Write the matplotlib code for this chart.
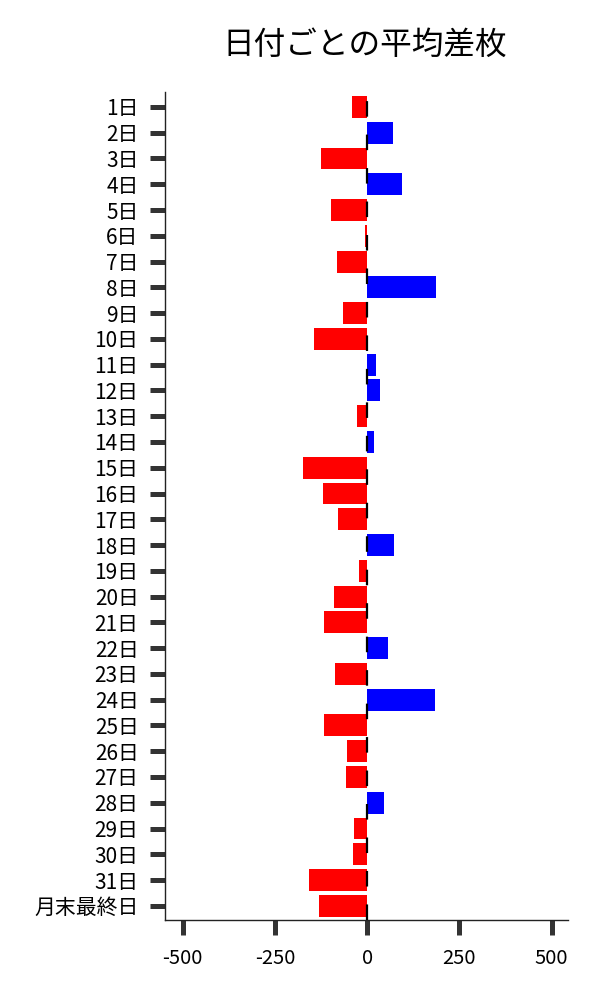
import matplotlib
matplotlib.use("Agg")
import matplotlib.pyplot as plt

plt.rcParams['font.family'] = ['Noto Sans CJK JP', 'DejaVu Sans']
plt.rcParams['lines.scale_dashes'] = False

days = [f"{i}日" for i in range(1, 32)] + ["月末最終日"]
values = [-41, 70, -125, 95, -98, -5, -81, 186, -65, -144,
          24, 34, -27, 18, -173, -119, -79, 73, -22, -89,
          -117, 57, -87, 184, -117, -54, -57, 46, -35, -38,
          -157, -130]
title = "日付ごとの平均差枚"
xticks = [-500, -250, 0, 250, 500]

colors = ['#0000ff' if v > 0 else '#ff0000' for v in values]

fig = plt.figure(figsize=(6, 10), dpi=100)
ax = fig.add_axes([0.275, 0.08, 0.672, 0.828])

ypos = list(range(len(days)))
ax.barh(ypos, values, height=0.85, color=colors, zorder=2)
ax.axvline(0, color='black', linewidth=1.6, dashes=(11.2, 12.9), zorder=3)

ax.set_yticks(ypos)
ax.set_yticklabels(days)
ax.set_ylim(len(days) - 1 + 0.55, -0.58)
ax.set_xlim(-548, 545)
ax.set_xticks(xticks)
ax.set_xticklabels([str(t) for t in xticks])

ax.tick_params(axis='both', which='major', length=11, width=3.6,
               color='#333333', direction='out')
ax.tick_params(axis='y', pad=8, labelsize=15)
ax.tick_params(axis='x', pad=9, labelsize=14.5)

for s in ['top', 'right']:
    ax.spines[s].set_visible(False)
for s in ['left', 'bottom']:
    ax.spines[s].set_color('#222222')
    ax.spines[s].set_linewidth(1.0)

fig.suptitle(title, fontsize=22.8, x=0.608, y=0.971)

fig.savefig('out.png', dpi=100)
